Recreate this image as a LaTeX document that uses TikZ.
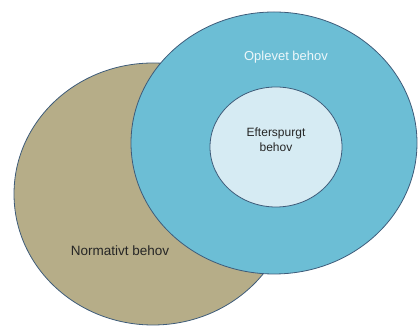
\documentclass[tikz,border=0pt]{standalone}
\usepackage{fontspec}
\setmainfont{Liberation Sans}
\usetikzlibrary{shapes.geometric}
\definecolor{tan}{RGB}{182,173,136}
\definecolor{sky}{RGB}{108,190,213}
\definecolor{pale}{RGB}{214,235,243}
\definecolor{rim}{RGB}{62,92,122}

\begin{document}
\begin{tikzpicture}[x=1pt,y=1pt]
\useasboundingbox (0,0) rectangle (418,326);
\node (normativ) [ellipse, draw=rim, fill=tan, line width=0.8pt, minimum width=278pt, minimum height=262pt] at (153,132) {};
\node (oplevet) [ellipse, draw=rim, fill=sky, line width=0.8pt, minimum width=286pt, minimum height=262pt] at (274,183) {};
\node (efterspurgt) [ellipse, draw=rim, fill=pale, line width=0.8pt, minimum width=132pt, minimum height=120pt] at (276,179) {};

\node (oplevettxt) [text=white!88!sky, font=\fontsize{13}{15}\selectfont] at (oplevet.center) [yshift=86pt, xshift=12pt] {Oplevet behov};
\node (efterspurgttxt) [align=center, text=black!85, font=\fontsize{12}{15}\selectfont] at (efterspurgt.center) [yshift=7pt] {Efterspurgt\\behov};
\node (normativtxt) [text=black!85, font=\fontsize{13.5}{15}\selectfont] at (normativ.center) [xshift=-33pt, yshift=-57pt] {Normativt behov};
\end{tikzpicture}
\end{document}
